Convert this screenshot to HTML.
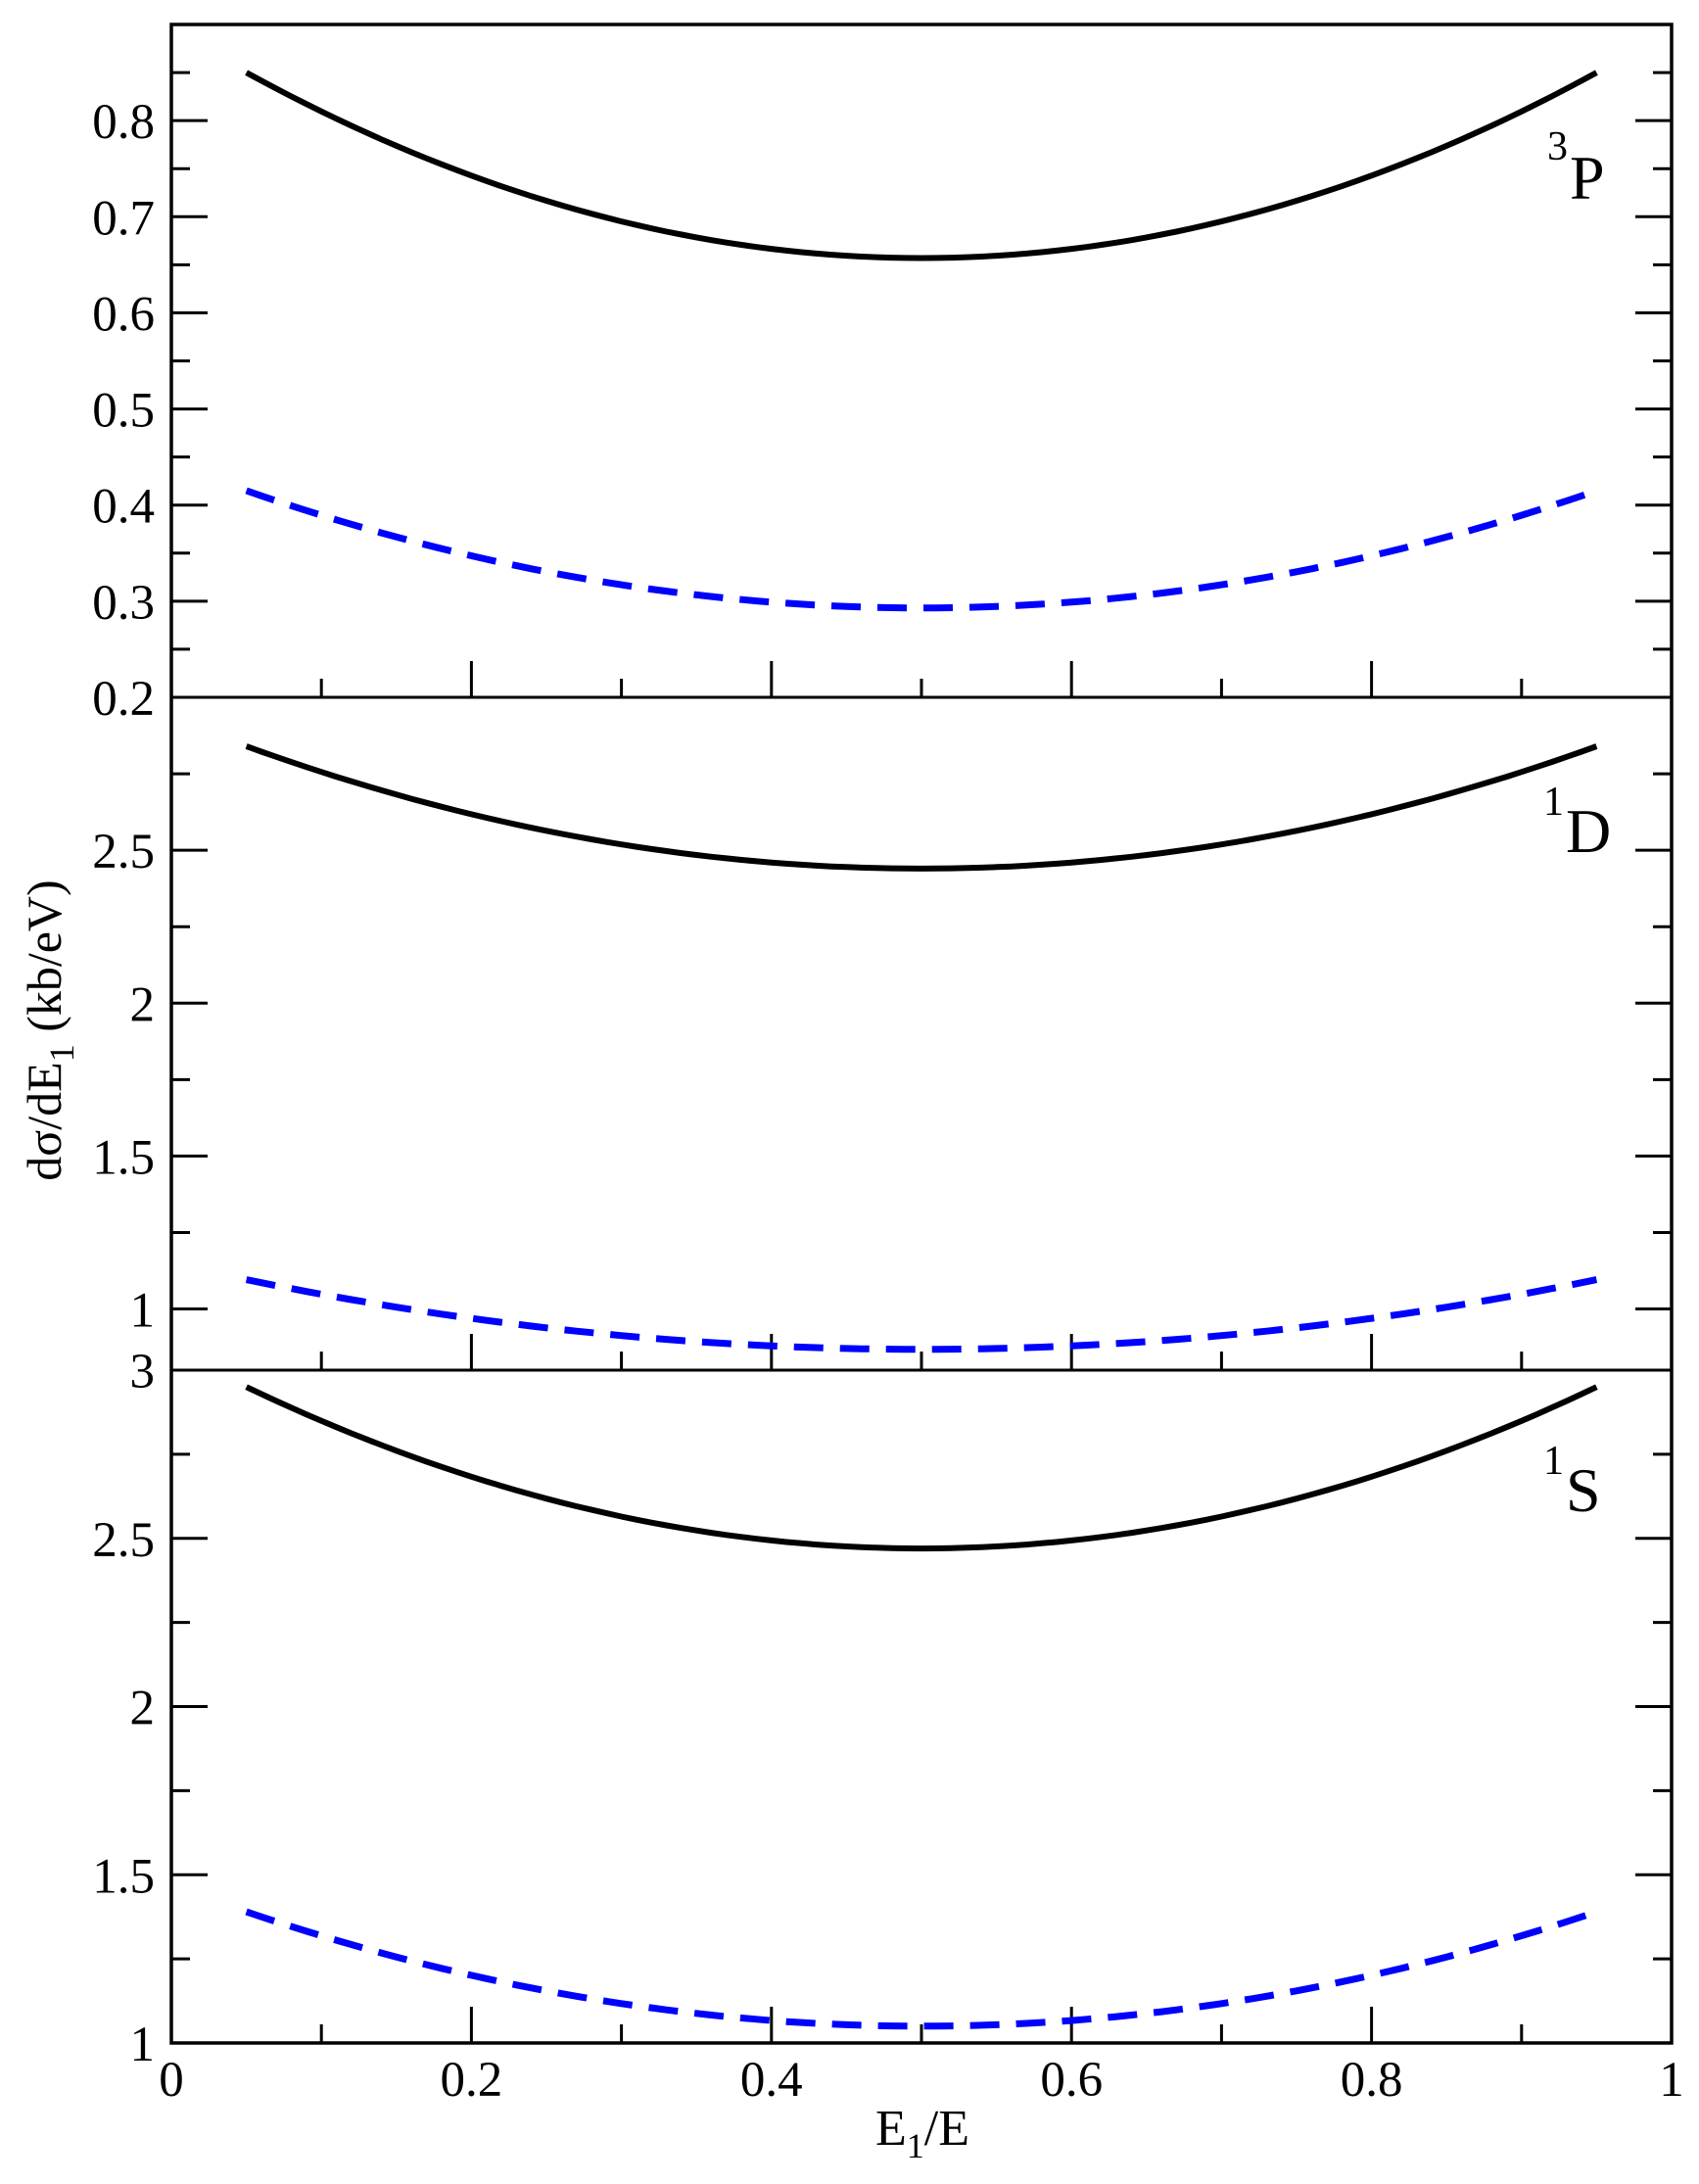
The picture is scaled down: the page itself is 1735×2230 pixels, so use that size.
<!DOCTYPE html>
<html><head><meta charset="utf-8"><style>
html,body{margin:0;padding:0;background:#fff}
svg{display:block}
text{font-family:"Liberation Serif","DejaVu Serif",serif;fill:#000}
</style></head><body>
<svg id="s" xmlns="http://www.w3.org/2000/svg" width="1735" height="2230" viewBox="0 0 1735 2230">
<g id="g"></g>
<text x="942" y="2190" font-size="52" text-anchor="middle">E<tspan font-size="36" dy="13">1</tspan><tspan dy="-13">/E</tspan></text>
<text transform="translate(62,1052) rotate(-90)" font-size="50" text-anchor="middle">dσ/dE<tspan font-size="36" dy="13">1</tspan><tspan dy="-13"> (kb/eV)</tspan></text>
<text x="1580" y="163" font-size="42">3</text><text x="1603" y="203" font-size="64">P</text>
<text x="1576" y="832" font-size="42">1</text><text x="1599" y="870" font-size="64">D</text>
<text x="1576" y="1505" font-size="42">1</text><text x="1599" y="1543" font-size="64">S</text>
</svg>
<script>
var g=document.getElementById('g'),h='';
var L=175,R=1707;
function X(x){return L+(R-L)*x;}
var P=[{t:25,b:712,lo:0.2,hi:0.9,maj:0.1,min:0.05,labs:[0.2,0.3,0.4,0.5,0.6,0.7,0.8],
 s:[0.657,0.85],d:[0.293,0.415]},
 {t:712,b:1399,lo:0.8,hi:3.0,maj:0.5,min:0.25,labs:[1,1.5,2,2.5],s:[2.44,2.84],d:[0.868,1.096]},
 {t:1399,b:2086,lo:1,hi:3,maj:0.5,min:0.25,labs:[1,1.5,2,2.5,3],s:[2.47,2.95],d:[1.05,1.39]}];
P.forEach(function(p,i){
 function Y(v){return p.b-(v-p.lo)/(p.hi-p.lo)*(p.b-p.t);}
 for(var k=Math.ceil(p.lo/p.min-1e-6);k*p.min<=p.hi+1e-6;k++){
  var v=k*p.min,y=Y(v);if(y<p.t+2||y>p.b-2)continue;
  var mj=Math.abs(v/p.maj-Math.round(v/p.maj))<1e-6,len=mj?37:19;
  h+='<line x1="'+L+'" y1="'+y+'" x2="'+(L+len)+'" y2="'+y+'" stroke="#000" stroke-width="3"/>';
  h+='<line x1="'+R+'" y1="'+y+'" x2="'+(R-len)+'" y2="'+y+'" stroke="#000" stroke-width="3"/>';
 }
 p.labs.forEach(function(v){var y=Y(v);h+='<text x="158" y="'+(y+18)+'" font-size="51" text-anchor="end">'+v+'</text>';});
 for(var k=1;k<10;k++){var x=X(k/10),len=k%2==0?37:19;
  h+='<line x1="'+x+'" y1="'+p.b+'" x2="'+x+'" y2="'+(p.b-len)+'" stroke="#000" stroke-width="3"/>';}
 [['s','#000',6,''],['d','#0000ff',7,'30 17']].forEach(function(c){
  var m=p[c[0]][0],e=p[c[0]][1],b=(e-m)/0.2025,pts=[];
  for(var j=0;j<=90;j++){var x=0.05+j*0.01;pts.push(X(x).toFixed(1)+','+Y(m+b*(x-0.5)*(x-0.5)).toFixed(1));}
  h+='<polyline fill="none" stroke="'+c[1]+'" stroke-width="'+c[2]+'"'+(c[3]?' stroke-dasharray="'+c[3]+'"':'')+' points="'+pts.join(' ')+'"/>';
 });
});
h+='<line x1="'+L+'" y1="712" x2="'+R+'" y2="712" stroke="#000" stroke-width="3"/>';
h+='<line x1="'+L+'" y1="1399" x2="'+R+'" y2="1399" stroke="#000" stroke-width="3"/>';
h+='<rect x="'+L+'" y="25" width="'+(R-L)+'" height="2061" fill="none" stroke="#000" stroke-width="3.5"/>';
var xl=['0','0.2','0.4','0.6','0.8','1'];
xl.forEach(function(s,i){h+='<text x="'+X(i*0.2)+'" y="2140" font-size="51" text-anchor="middle">'+s+'</text>';});
g.innerHTML=h;
</script>
</body></html>
